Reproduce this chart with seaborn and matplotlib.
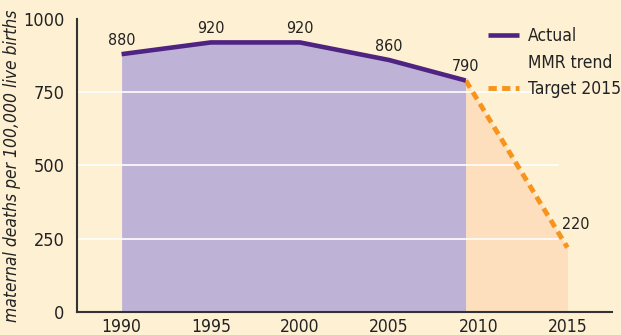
import numpy as np
import pandas as pd
import matplotlib.pyplot as plt
import seaborn as sns
from matplotlib.lines import Line2D

# Data
actual_years = [1990, 1995, 2000, 2005, 2009.3]
actual_mmr = [880, 920, 920, 860, 790]
target_years = [2009.3, 2015]
target_mmr = [790, 220]
label_years = [1990, 1995, 2000, 2005, 2009.3]
label_values = [880, 920, 920, 860, 790]
x_ticks = [1990, 1995, 2000, 2005, 2010, 2015]
y_ticks = [0, 250, 500, 750, 1000]

bg = "#FEF0D2"
purple = "#4F2382"
purple_fill = "#BEB3D6"
orange = "#F7941D"
orange_fill = "#FDDFBE"

sns.set_style("white")
plt.rcParams["font.family"] = ["DejaVu Sans"]
plt.rcParams["font.stretch"] = "condensed"

fig = plt.figure(figsize=(6.21, 3.35), dpi=100, facecolor=bg)
ax = fig.add_axes([0.124, 0.0687, 0.8615, 0.8746], facecolor=bg)

actual = pd.DataFrame({"year": actual_years, "mmr": actual_mmr})
target = pd.DataFrame({"year": target_years, "mmr": target_mmr})

ax.fill_between(actual["year"], actual["mmr"], color=purple_fill, lw=0, zorder=1)
ax.fill_between(target["year"], target["mmr"], color=orange_fill, lw=0, zorder=1)

# white grid lines over the fills
for y in y_ticks[1:-1]:
    ax.plot([1987.5, 2014.5], [y, y], color="white", lw=1.2, zorder=2)

sns.lineplot(data=actual, x="year", y="mmr", ax=ax, color=purple, lw=3.3,
             zorder=4, solid_capstyle="butt")
line_actual = ax.lines[-1]
sns.lineplot(data=target, x="year", y="mmr", ax=ax, color=orange, lw=3.5, zorder=3)
line_target = ax.lines[-1]
line_target.set_linestyle((0, (1.7, 1.1)))

for x, v in zip(label_years, label_values):
    ax.text(x, v + 22, str(v), ha="center", va="bottom", fontsize=11.5, color="#222222")
ax.text(target_years[-1] - 0.3, 300, str(target_mmr[-1]), ha="left", va="center",
        fontsize=11.5, color="#222222")

ax.set_xlim(1987.5, 2017.5)
ax.set_ylim(0, 1000)
ax.set_xticks(x_ticks)
ax.set_yticks(y_ticks)
ax.tick_params(axis="x", direction="in", length=6, width=1.2, color="#333333",
               labelsize=12.5, pad=4, labelcolor="#222222")
ax.tick_params(axis="y", direction="out", length=6, width=1.2, color="#333333",
               labelsize=13, pad=3, labelcolor="#222222")
ax.set_xlabel("")
ax.set_ylabel("maternal deaths per 100,000 live births", fontsize=12.5,
              style="italic", color="#222222")
ax.yaxis.set_label_coords(-0.105, 0.5)
for s in ["top", "right"]:
    ax.spines[s].set_visible(False)
for s in ["left", "bottom"]:
    ax.spines[s].set_color("#333333")
    ax.spines[s].set_linewidth(1.5)
ax.grid(False)

# legend: the purple key sits on the first text line only
blank = Line2D([], [], color="none")
leg = ax.legend([line_actual, blank, line_target], ["Actual", "MMR trend", "Target 2015"],
                loc="upper left", bbox_to_anchor=(0.748, 1.008), frameon=False,
                fontsize=12.5, handlelength=1.8, handletextpad=0.5, labelspacing=0.5,
                borderaxespad=0.2)
for t in leg.get_texts():
    t.set_color("#222222")

fig.savefig("out.png", dpi=100, facecolor=bg)
